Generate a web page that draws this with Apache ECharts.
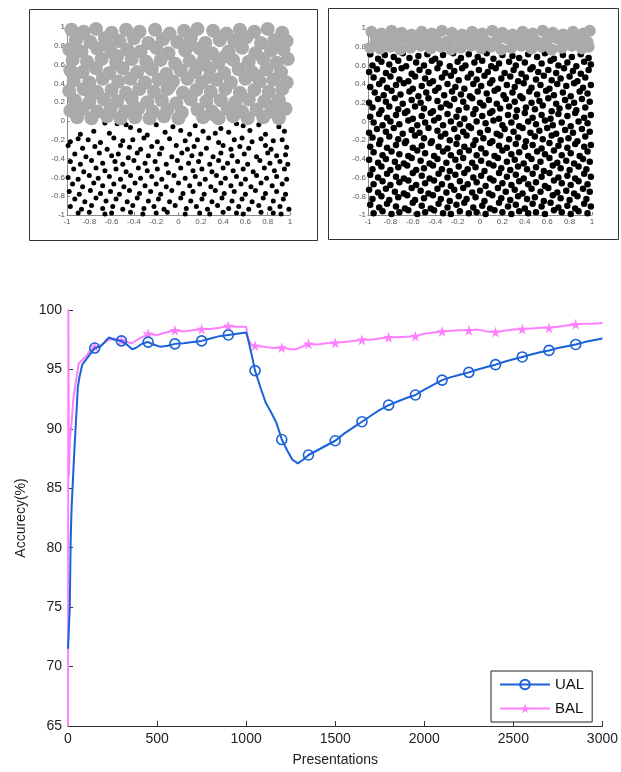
<!DOCTYPE html>
<html>
<head>
<meta charset="utf-8">
<script src="https://cdn.jsdelivr.net/npm/echarts@6/dist/echarts.min.js"></script>
<style>html,body{margin:0;padding:0;background:#fff}#c{width:621px;height:772px}</style>
</head>
<body>
<div id="c"></div>
<script>
// ---------- Top-left panel (boundary at y = 0) ----------
const leftGray = [
-.96,.97, -.85,.95, -.74,.98, -.6,.94, -.47,.97, -.35,.95, -.21,.97, -.08,.93, .05,.96, .17,.98, .31,.96, .43,.93, .55,.97, .68,.95, .8,.98, .93,.94,
-.92,.86, -.79,.84, -.66,.88, -.53,.85, -.4,.88, -.27,.83, -.14,.87, -.01,.84, .11,.88, .24,.83, .37,.86, .5,.85, .61,.89, .74,.83, .86,.86, .97,.85,
-.98,.76, -.87,.74, -.73,.77, -.6,.73, -.46,.76, -.34,.74, -.2,.78, -.09,.72, .06,.75, .19,.77, .3,.72, .45,.74, .57,.78, .69,.72, .83,.75, .94,.76,
-.95,.65, -.82,.63, -.69,.66, -.56,.62, -.42,.66, -.29,.63, -.16,.65, -.03,.61, .1,.64, .23,.67, .36,.62, .49,.65, .63,.63, .76,.66, .88,.62, .98,.66,
-.97,.54, -.86,.52, -.74,.56, -.62,.51, -.5,.56, -.37,.52, -.24,.55, -.11,.5, .02,.54, .15,.52, .28,.56, .41,.51, .54,.55, .66,.52, .79,.55, .92,.52,
-.94,.43, -.8,.41, -.68,.45, -.54,.42, -.43,.45, -.3,.41, -.18,.44, -.05,.42, .08,.45, .21,.41, .34,.44, .47,.41, .6,.45, .73,.42, .85,.44, .97,.41,
-.98,.32, -.85,.34, -.73,.31, -.6,.33, -.47,.3, -.35,.34, -.22,.31, -.1,.34, .04,.3, .16,.33, .29,.31, .42,.34, .55,.3, .68,.33, .81,.31, .93,.34,
-.93,.22, -.8,.2, -.67,.23, -.55,.21, -.42,.24, -.28,.2, -.15,.22, -.02,.19, .11,.23, .25,.21, .38,.22, .51,.2, .63,.23, .77,.21, .9,.22,
-.97,.11, -.86,.13, -.73,.1, -.61,.12, -.48,.1, -.36,.13, -.23,.1, -.1,.12, .03,.09, .17,.12, .3,.1, .44,.13, .57,.1, .7,.12, .83,.1, .96,.13,
-.91,.04, -.78,.03, -.64,.05, -.52,.03, -.39,.04, -.26,.03, -.13,.05, 0,.03, .22,.04, .36,.03, .49,.05, .62,.03, .76,.04, .9,.03,
-.9,.91, -.63,.8, -.27,.58, .09,.8, .42,.69, .7,.48, -.78,.28, -.4,.15, .28,.47, .86,.16, -.08,.37, .56,.88, .33,.06, -.55,.69, .2,.6
];
const leftBlack = [
-.55,-.03, -.47,-.04, -.43,-.07, -.2,-.04, -.05,-.06, .15,-.05, .38,-.08, .52,-.03, .58,-.05, .9,-.06, .72,-.04, -.66,-.02,
-.88,-.14, -.76,-.11, -.62,-.13, -.35,-.1, -.28,-.15, -.12,-.12, .02,-.1, .1,-.14, .22,-.11, .33,-.13, .45,-.12, .64,-.1, .78,-.14, .95,-.11,
-.97,-.22, -.9,-.19, -.81,-.2, -.7,-.23, -.58,-.18, -.5,-.21, -.41,-.2, -.31,-.18, -.19,-.22, -.08,-.19, .06,-.21, .17,-.2, .27,-.18, .36,-.23, .5,-.2, .57,-.18, .66,-.22, .74,-.19, .85,-.21, .93,-.2,
-.99,-.26, -.86,-.29, -.75,-.27, -.64,-.3, -.52,-.26, -.44,-.28, -.34,-.3, -.24,-.27, -.15,-.29, -.02,-.26, .08,-.3, .14,-.27, .25,-.29, .4,-.26, .47,-.3, .55,-.27, .63,-.29, .78,-.26, .83,-.3, .97,-.28,
-.93,-.35, -.83,-.38, -.71,-.34, -.6,-.37, -.54,-.35, -.45,-.39, -.37,-.34, -.27,-.37, -.17,-.35, -.06,-.38, .03,-.34, .12,-.37, .2,-.35, .31,-.38, .38,-.34, .48,-.37, .59,-.35, .7,-.38, .8,-.34, .88,-.37, .96,-.36,
-.97,-.43, -.88,-.46, -.78,-.42, -.68,-.45, -.57,-.43, -.5,-.46, -.4,-.42, -.3,-.45, -.21,-.43, -.11,-.46, -.01,-.42, .09,-.45, .18,-.43, .28,-.46, .36,-.42, .44,-.45, .53,-.43, .62,-.46, .73,-.42, .82,-.45, .91,-.43, .98,-.46,
-.94,-.51, -.85,-.54, -.74,-.5, -.66,-.53, -.56,-.51, -.47,-.54, -.36,-.5, -.28,-.53, -.19,-.51, -.09,-.55, .02,-.5, .13,-.53, .21,-.51, .3,-.54, .4,-.5, .49,-.53, .58,-.51, .67,-.54, .77,-.5, .86,-.53, .95,-.51,
-.99,-.6, -.9,-.62, -.8,-.58, -.72,-.61, -.62,-.59, -.52,-.62, -.43,-.58, -.34,-.61, -.24,-.59, -.15,-.62, -.04,-.58, .06,-.61, .15,-.59, .24,-.62, .34,-.58, .42,-.61, .52,-.59, .6,-.62, .7,-.58, .79,-.61, .88,-.59, .97,-.62,
-.95,-.67, -.86,-.7, -.76,-.66, -.68,-.69, -.58,-.67, -.49,-.7, -.39,-.66, -.3,-.69, -.2,-.67, -.11,-.7, 0,-.66, .1,-.69, .19,-.67, .29,-.7, .38,-.66, .47,-.69, .56,-.67, .65,-.7, .74,-.66, .84,-.69, .93,-.67,
-.98,-.75, -.89,-.78, -.79,-.74, -.7,-.77, -.61,-.75, -.53,-.78, -.44,-.74, -.35,-.77, -.25,-.75, -.16,-.78, -.06,-.74, .04,-.77, .13,-.75, .23,-.78, .33,-.74, .41,-.77, .5,-.75, .6,-.78, .69,-.74, .78,-.77, .88,-.75, .96,-.78,
-.93,-.83, -.84,-.86, -.74,-.82, -.65,-.85, -.56,-.83, -.46,-.86, -.37,-.82, -.27,-.85, -.18,-.83, -.08,-.86, .02,-.82, .11,-.85, .21,-.83, .3,-.86, .39,-.82, .48,-.85, .57,-.83, .66,-.86, .76,-.82, .85,-.85, .94,-.83,
-.97,-.91, -.87,-.94, -.78,-.9, -.68,-.93, -.59,-.91, -.5,-.94, -.41,-.9, -.31,-.93, -.22,-.91, -.13,-.94, -.03,-.9, .07,-.93, .16,-.91, .26,-.94, .35,-.9, .45,-.93, .54,-.91, .63,-.94, .72,-.9, .82,-.93, .91,-.91, .99,-.94,
-.9,-.98, -.8,-.97, -.66,-.99, -.6,-.98, -.43,-.97, -.32,-.99, -.2,-.98, -.1,-.97, .06,-.99, .19,-.98, .28,-.99, .4,-.97, .52,-.98, .58,-.99, .74,-.97, .85,-.98, .92,-.99
];

// ---------- Top-right panel (boundary at y = 0.75) ----------
const rightGray = [
-.97,.96, -.88,.94, -.79,.97, -.7,.95, -.61,.93, -.52,.96, -.43,.94, -.34,.97, -.25,.95, -.16,.93, -.07,.96, .02,.94, .11,.97, .2,.95, .29,.93, .38,.96, .47,.94, .56,.97, .65,.95, .74,.93, .83,.96, .92,.94, .98,.97,
-.93,.87, -.84,.89, -.75,.86, -.66,.88, -.57,.85, -.48,.89, -.39,.87, -.3,.85, -.21,.88, -.12,.86, -.03,.89, .06,.85, .15,.87, .24,.89, .33,.86, .42,.88, .51,.85, .6,.87, .69,.89, .78,.86, .87,.88, .96,.85,
-.98,.79, -.89,.78, -.8,.8, -.71,.77, -.62,.79, -.53,.81, -.44,.78, -.35,.8, -.26,.77, -.17,.79, -.08,.81, .01,.78, .1,.8, .19,.77, .28,.79, .37,.81, .46,.78, .55,.8, .64,.77, .73,.79, .82,.81, .91,.78, .97,.8
];
const rightBlack = [
-.98,.72, -.91,.67, -.85,.71, -.77,.69, -.69,.73, -.63,.68, -.55,.7, -.47,.72, -.4,.67, -.33,.71, -.24,.73, -.17,.68, -.1,.72, -.02,.69, .06,.73, .12,.67, .2,.71, .29,.7, .35,.68, .43,.72, .51,.69, .58,.73, .66,.67, .74,.71, .82,.69, .9,.72, .97,.68,
-.96,.6, -.88,.64, -.81,.61, -.73,.65, -.66,.59, -.57,.63, -.5,.6, -.43,.65, -.36,.62, -.27,.59, -.2,.64, -.13,.6, -.05,.63, .02,.65, .1,.59, .17,.62, .26,.64, .32,.6, .4,.63, .47,.58, .55,.62, .63,.65, .7,.6, .78,.63, .86,.59, .93,.64, .99,.61,
-.99,.53, -.92,.56, -.84,.52, -.77,.55, -.7,.57, -.61,.51, -.54,.55, -.46,.53, -.38,.57, -.31,.52, -.23,.54, -.16,.57, -.08,.51, -.01,.55, .07,.53, .14,.57, .22,.52, .3,.55, .37,.51, .45,.56, .52,.53, .61,.55, .68,.52, .75,.57, .83,.54, .9,.51, .97,.55,
-.95,.47, -.87,.44, -.8,.48, -.72,.45, -.64,.43, -.58,.48, -.49,.46, -.42,.43, -.34,.47, -.26,.49, -.19,.44, -.11,.47, -.03,.45, .04,.49, .11,.44, .19,.46, .27,.48, .34,.43, .41,.47, .5,.45, .57,.49, .64,.44, .72,.46, .8,.48, .87,.43, .94,.47,
-.98,.37, -.9,.4, -.83,.36, -.75,.39, -.68,.41, -.6,.35, -.52,.38, -.45,.41, -.37,.36, -.29,.4, -.22,.37, -.14,.35, -.06,.4, .01,.38, .09,.41, .16,.35, .24,.39, .31,.37, .39,.41, .46,.36, .54,.39, .62,.35, .69,.4, .77,.38, .84,.41, .92,.36, .99,.39,
-.94,.31, -.86,.28, -.79,.33, -.71,.29, -.63,.32, -.55,.27, -.48,.31, -.4,.33, -.32,.28, -.25,.32, -.17,.29, -.09,.27, -.02,.32, .06,.3, .13,.33, .21,.28, .29,.31, .36,.27, .44,.32, .51,.29, .59,.33, .66,.28, .74,.31, .81,.27, .89,.32, .96,.3,
-.99,.2, -.91,.24, -.84,.21, -.76,.25, -.69,.19, -.61,.23, -.53,.2, -.46,.25, -.38,.22, -.3,.19, -.23,.24, -.15,.21, -.07,.25, 0,.2, .08,.23, .15,.19, .23,.24, .31,.21, .38,.25, .46,.2, .53,.22, .61,.25, .68,.19, .76,.23, .84,.2, .91,.24, .98,.21,
-.96,.15, -.88,.12, -.81,.16, -.73,.13, -.65,.11, -.58,.16, -.5,.14, -.42,.11, -.35,.15, -.27,.17, -.19,.12, -.12,.15, -.04,.13, .03,.17, .11,.11, .18,.14, .26,.16, .33,.12, .41,.15, .49,.13, .56,.17, .64,.11, .71,.14, .79,.16, .86,.12, .94,.15,
-.98,.05, -.9,.08, -.83,.04, -.75,.07, -.67,.09, -.6,.03, -.52,.06, -.44,.09, -.37,.04, -.29,.08, -.21,.05, -.14,.03, -.06,.08, .02,.06, .09,.09, .17,.03, .25,.07, .32,.05, .4,.09, .47,.04, .55,.07, .63,.03, .7,.08, .78,.06, .85,.09, .93,.04, .99,.07,
-.95,-.01, -.87,-.04, -.8,0, -.72,-.03, -.64,.01, -.56,-.04, -.49,-.01, -.41,.01, -.33,-.04, -.26,0, -.18,-.03, -.1,-.05, -.03,0, .05,-.02, .12,.01, .2,-.04, .28,-.01, .35,-.05, .43,0, .5,-.03, .58,.01, .65,-.04, .73,-.01, .81,-.05, .88,0, .96,-.02,
-.99,-.12, -.92,-.08, -.84,-.11, -.77,-.07, -.69,-.13, -.61,-.09, -.54,-.12, -.46,-.07, -.38,-.1, -.31,-.13, -.23,-.08, -.15,-.11, -.08,-.07, 0,-.12, .07,-.09, .15,-.13, .22,-.08, .3,-.11, .38,-.07, .45,-.12, .53,-.1, .6,-.07, .68,-.13, .76,-.09, .83,-.12, .91,-.08, .98,-.11,
-.96,-.17, -.89,-.2, -.81,-.16, -.73,-.19, -.66,-.21, -.58,-.15, -.5,-.18, -.43,-.21, -.35,-.16, -.27,-.2, -.2,-.17, -.12,-.15, -.04,-.2, .03,-.18, .11,-.21, .18,-.15, .26,-.19, .34,-.17, .41,-.21, .49,-.16, .56,-.19, .64,-.15, .72,-.2, .79,-.18, .87,-.21, .94,-.16,
-.98,-.27, -.9,-.24, -.83,-.28, -.75,-.25, -.67,-.23, -.6,-.28, -.52,-.26, -.44,-.23, -.37,-.27, -.29,-.29, -.21,-.24, -.14,-.27, -.06,-.25, .01,-.29, .09,-.23, .17,-.26, .24,-.28, .32,-.24, .4,-.27, .47,-.25, .55,-.29, .62,-.23, .7,-.26, .78,-.28, .85,-.24, .93,-.27, .99,-.25,
-.95,-.33, -.87,-.36, -.79,-.32, -.72,-.35, -.64,-.37, -.56,-.31, -.49,-.34, -.41,-.37, -.33,-.32, -.26,-.36, -.18,-.33, -.1,-.31, -.03,-.36, .05,-.34, .13,-.37, .2,-.31, .28,-.35, .35,-.33, .43,-.37, .51,-.32, .58,-.35, .66,-.31, .73,-.36, .81,-.34, .89,-.37, .96,-.32,
-.99,-.41, -.91,-.44, -.84,-.4, -.76,-.43, -.68,-.45, -.61,-.39, -.53,-.42, -.45,-.45, -.38,-.4, -.3,-.44, -.22,-.41, -.15,-.39, -.07,-.44, .01,-.42, .08,-.45, .16,-.39, .24,-.43, .31,-.41, .39,-.45, .46,-.4, .54,-.43, .62,-.39, .69,-.44, .77,-.42, .84,-.45, .92,-.4, .98,-.43,
-.96,-.51, -.88,-.48, -.8,-.52, -.73,-.49, -.65,-.47, -.57,-.52, -.5,-.5, -.42,-.47, -.34,-.51, -.27,-.53, -.19,-.48, -.11,-.51, -.04,-.49, .04,-.53, .12,-.47, .19,-.5, .27,-.52, .34,-.48, .42,-.51, .5,-.49, .57,-.53, .65,-.47, .72,-.5, .8,-.52, .88,-.48, .95,-.51,
-.98,-.57, -.91,-.6, -.83,-.56, -.75,-.59, -.68,-.61, -.6,-.55, -.52,-.58, -.45,-.61, -.37,-.56, -.29,-.6, -.22,-.57, -.14,-.55, -.06,-.6, .01,-.58, .09,-.61, .17,-.55, .24,-.59, .32,-.57, .39,-.61, .47,-.56, .55,-.59, .62,-.55, .7,-.6, .78,-.58, .85,-.61, .93,-.56, .99,-.59,
-.95,-.67, -.87,-.64, -.8,-.68, -.72,-.65, -.64,-.63, -.57,-.68, -.49,-.66, -.41,-.63, -.34,-.67, -.26,-.69, -.18,-.64, -.11,-.67, -.03,-.65, .05,-.69, .12,-.63, .2,-.66, .28,-.68, .35,-.64, .43,-.67, .5,-.65, .58,-.69, .66,-.63, .73,-.66, .81,-.68, .88,-.64, .96,-.67,
-.99,-.73, -.91,-.76, -.84,-.72, -.76,-.75, -.68,-.77, -.61,-.71, -.53,-.74, -.46,-.77, -.38,-.72, -.3,-.76, -.23,-.73, -.15,-.71, -.07,-.76, 0,-.74, .08,-.77, .16,-.71, .23,-.75, .31,-.73, .38,-.77, .46,-.72, .54,-.75, .61,-.71, .69,-.76, .77,-.74, .84,-.77, .92,-.72, .98,-.75,
-.96,-.83, -.88,-.8, -.81,-.84, -.73,-.81, -.65,-.79, -.58,-.84, -.5,-.82, -.42,-.79, -.35,-.83, -.27,-.85, -.19,-.8, -.12,-.83, -.04,-.81, .04,-.85, .11,-.79, .19,-.82, .27,-.84, .34,-.8, .42,-.83, .49,-.81, .57,-.85, .65,-.79, .72,-.82, .8,-.84, .87,-.8, .95,-.83,
-.98,-.89, -.9,-.92, -.83,-.88, -.75,-.91, -.67,-.93, -.6,-.87, -.52,-.9, -.44,-.93, -.37,-.88, -.29,-.92, -.21,-.89, -.14,-.87, -.06,-.92, .02,-.9, .09,-.93, .17,-.87, .25,-.91, .32,-.89, .4,-.93, .47,-.88, .55,-.91, .63,-.87, .7,-.92, .78,-.9, .85,-.93, .93,-.88, .99,-.91,
-.95,-.98, -.87,-.96, -.79,-.99, -.72,-.97, -.64,-.95, -.56,-.99, -.49,-.97, -.41,-.95, -.33,-.98, -.26,-.99, -.18,-.96, -.1,-.98, -.03,-.97, .05,-.99, .13,-.95, .2,-.97, .28,-.99, .35,-.96, .43,-.98, .5,-.97, .58,-.99, .66,-.95, .73,-.97, .81,-.99, .88,-.96, .96,-.98
];
const panelTicks = [-1, -0.8, -0.6, -0.4, -0.2, 0, 0.2, 0.4, 0.6, 0.8, 1];

// ---------- Bottom chart: accuracy vs presentations ----------
const ualX = [0,10,15,20,35,48,55,65,80,100,120,150,180,200,230,260,300,330,360,380,420,450,480,520,560,600,650,700,750,800,850,900,950,1000,1010,1030,1050,1080,1110,1140,1170,1200,1230,1260,1290,1320,1350,1400,1450,1500,1550,1600,1650,1700,1750,1800,1850,1900,1950,2000,2050,2100,2150,2200,2250,2300,2350,2400,2450,2500,2550,2600,2650,2700,2750,2800,2850,2900,2950,3000];
const ualY = [71.5,75,80.6,83.3,88,91.5,93.5,94.4,95.4,95.8,96.2,96.8,96.9,97.2,97.7,97.5,97.4,97.1,96.7,96.8,97.2,97.3,97.1,96.9,97.0,97.15,97.2,97.3,97.4,97.6,97.8,97.9,98.0,98.1,97.6,96.3,94.9,93.5,92.2,91.4,90.5,89.1,88.2,87.4,87.1,87.4,87.8,88.2,88.6,89.0,89.6,90.1,90.6,91.1,91.6,92.0,92.3,92.6,92.85,93.3,93.7,94.1,94.35,94.55,94.75,95.0,95.2,95.4,95.65,95.85,96.05,96.25,96.45,96.6,96.8,96.95,97.1,97.3,97.45,97.6];
const balX = [0,2,5,10,20,30,40,50,60,80,100,120,150,180,200,230,260,300,330,360,400,450,500,550,600,650,700,750,800,850,900,950,1000,1010,1030,1050,1100,1150,1200,1250,1280,1350,1400,1450,1500,1550,1600,1650,1700,1750,1800,1850,1900,1950,2000,2050,2100,2150,2200,2250,2300,2350,2400,2450,2500,2550,2600,2650,2700,2750,2800,2850,2900,2950,3000];
const balY = [65,100,86,89,90.5,92.5,93.6,94.5,95.5,95.8,96.1,96.5,96.9,97.0,97.2,97.5,97.6,97.45,97.3,97.2,97.6,98.0,97.9,98.1,98.3,98.2,98.3,98.4,98.4,98.5,98.65,98.6,98.6,97.6,97.1,97.0,96.9,96.8,96.85,96.7,96.7,97.15,97.1,97.2,97.25,97.3,97.4,97.5,97.5,97.6,97.7,97.7,97.75,97.8,98.0,98.1,98.2,98.25,98.3,98.3,98.35,98.2,98.15,98.25,98.35,98.4,98.45,98.5,98.5,98.6,98.7,98.8,98.85,98.85,98.9];
const markerStep = 150;
const xTicks = [0, 500, 1000, 1500, 2000, 2500, 3000];
const yTicks = [65, 70, 75, 80, 85, 90, 95, 100];

function toPairs(flat) { const out = []; for (let i = 0; i + 1 < flat.length; i += 2) out.push([flat[i], flat[i + 1]]); return out; }
function zip(xs, ys) { return xs.map((x, i) => [x, ys[i]]); }
function markSize(s) { return function (v) { return (v[0] > 0 && v[0] < 3000 && v[0] % markerStep === 0) ? s : 0; }; }

const FONT = 'Liberation Sans, Arial, sans-serif';
const BLUE = '#1a62d8';
const PINK = '#ff80ff';
const GRAY = '#aaaaaa';
const STAR = 'path://M50,0 L61,35 L98,35 L68,57 L79,91 L50,70 L21,91 L32,57 L2,35 L39,35 Z';

function panelAxis(gi, margin) {
  return { gridIndex: gi, type: 'value', min: panelTicks[0], max: panelTicks[panelTicks.length - 1], interval: 0.2,
    axisLine: { onZero: false, lineStyle: { color: '#8a8a8a', width: 1 } },
    axisTick: { inside: true, length: 3, lineStyle: { color: '#8a8a8a' } },
    axisLabel: { fontSize: 8, color: '#555', margin: margin, fontFamily: FONT },
    splitLine: { show: false } };
}
function dots(ax, flat, size, color) {
  return { type: 'scatter', xAxisIndex: ax, yAxisIndex: ax, data: toPairs(flat), symbol: 'circle', symbolSize: size,
    itemStyle: { color: color, opacity: 1, borderWidth: 0 },
    emphasis: { disabled: true }, silent: true };
}

const chart = echarts.init(document.getElementById('c'), null, { renderer: 'canvas' });
chart.setOption({
  animation: false,
  backgroundColor: '#fff',
  grid: [
    { left: 67, top: 27, width: 223, height: 188 },
    { left: 368, top: 28, width: 224, height: 187 },
    { left: 68, top: 310, width: 537, height: 420 }
  ],
  graphic: [
    { type: 'rect', shape: { x: 29.5, y: 9.5, width: 288, height: 231 }, style: { fill: 'none', stroke: '#333', lineWidth: 1 }, z: 0 },
    { type: 'rect', shape: { x: 328.5, y: 8.5, width: 290, height: 231 }, style: { fill: 'none', stroke: '#333', lineWidth: 1 }, z: 0 }
  ],
  xAxis: [
    panelAxis(0, 3), panelAxis(1, 3),
    { gridIndex: 2, type: 'value', min: xTicks[0], max: xTicks[xTicks.length - 1], interval: 500,
      name: 'Presentations', nameLocation: 'middle', nameGap: 27,
      nameTextStyle: { fontSize: 14, color: '#222', fontFamily: FONT },
      axisLine: { onZero: false, lineStyle: { color: '#333', width: 1 } },
      axisTick: { inside: true, length: 5, lineStyle: { color: '#333' } },
      axisLabel: { fontSize: 14, color: '#222', margin: 6, fontFamily: FONT, formatter: v => String(v) },
      splitLine: { show: false } }
  ],
  yAxis: [
    panelAxis(0, 2), panelAxis(1, 2),
    { gridIndex: 2, type: 'value', min: yTicks[0], max: yTicks[yTicks.length - 1], interval: 5,
      name: 'Accurecy(%)', nameLocation: 'middle', nameGap: 40,
      nameTextStyle: { fontSize: 14, color: '#222', fontFamily: FONT },
      axisLine: { onZero: false, lineStyle: { color: '#333', width: 1 } },
      axisTick: { inside: true, length: 5, lineStyle: { color: '#333' } },
      axisLabel: { fontSize: 14, color: '#222', margin: 6, fontFamily: FONT, formatter: v => String(v) },
      splitLine: { show: false } }
  ],
  legend: {
    orient: 'vertical', left: 491, top: 671, padding: [6, 8, 6, 8],
    itemWidth: 50, itemHeight: 12, itemGap: 9,
    borderColor: '#222', borderWidth: 1, backgroundColor: '#fff',
    textStyle: { fontSize: 15, color: '#111', fontFamily: FONT },
    data: ['UAL', 'BAL']
  },
  series: [
    dots(0, leftBlack, 5, '#000'),
    dots(0, leftGray, 14, GRAY),
    dots(1, rightBlack, 6.5, '#000'),
    dots(1, rightGray, 12, GRAY),
    { type: 'line', name: 'UAL', xAxisIndex: 2, yAxisIndex: 2, data: zip(ualX, ualY),
      symbol: 'circle', symbolSize: markSize(10), showSymbol: true,
      lineStyle: { color: BLUE, width: 2 },
      itemStyle: { color: 'rgba(255,255,255,0)', borderColor: BLUE, borderWidth: 1.6 }, z: 3 },
    { type: 'line', name: 'BAL', xAxisIndex: 2, yAxisIndex: 2, data: zip(balX, balY),
      symbol: STAR, symbolSize: markSize(11), showSymbol: true,
      lineStyle: { color: PINK, width: 2 }, itemStyle: { color: PINK }, z: 2 }
  ]
});
</script>
</body>
</html>
